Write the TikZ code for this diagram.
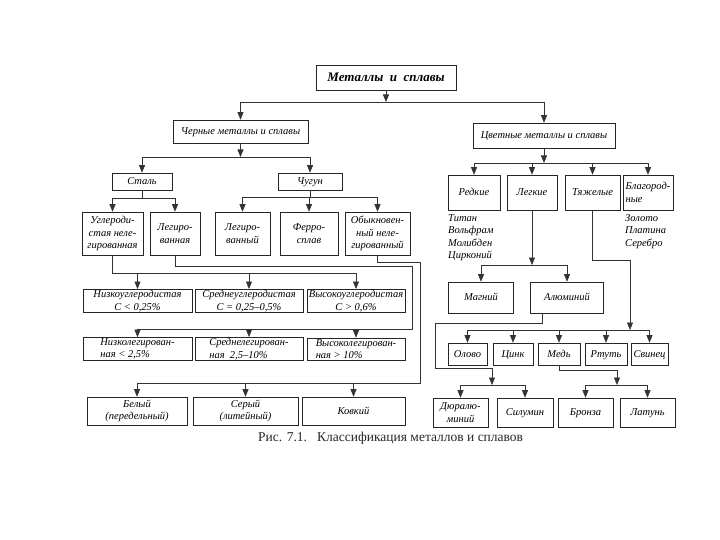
\documentclass[tikz,border=0pt]{standalone}
\usepackage{fontspec}
\setmainfont{Liberation Serif}
\usetikzlibrary{arrows.meta}

\tikzset{
  box/.style={draw=black!85, line width=0.6pt, inner sep=1pt, align=center,
    font=\itshape\fontsize{10.5}{12.5}\selectfont},
  word/.style={box, align=none, text height=6.5pt, text depth=0.5pt},
  list/.style={anchor=north west, inner sep=0pt, align=left,
    font=\itshape\fontsize{10.5}{12.5}\selectfont},
  link/.style={draw=black!80, line width=0.6pt},
  arr/.style={link, -{Triangle[width=6pt,length=7.5pt]}},
}

\begin{document}
\begin{tikzpicture}[x=1pt,y=-1pt]
  \useasboundingbox (0,0) rectangle (720,540);

  % top
  \node[word, text height=8.5pt, text depth=0.5pt, minimum width=140pt, minimum height=25pt, font=\bfseries\itshape\fontsize{13}{15}\selectfont] (metals) at (386,77.5) {Металлы\ \ и\ \ сплавы};
  \node[word, minimum width=135pt, minimum height=23pt] (ferrous) at (240.5,131.5) {Черные металлы и сплавы};
  \node[word, minimum width=142pt, minimum height=25pt] (nonferrous) at (544,135.5) {Цветные металлы и сплавы};

  % ferrous side
  \node[word, minimum width=60pt, minimum height=17pt] (steel) at (142,181.5) {Сталь};
  \node[word, minimum width=64pt, minimum height=17pt] (iron) at (310,181.5) {Чугун};

  \node[box, minimum width=61pt, minimum height=43pt] (carbon) at (112.5,233.5) {Углероди-\\стая неле-\\гированная};
  \node[box, minimum width=50pt, minimum height=43pt] (alloyst) at (175,233.5) {Легиро-\\ванная};
  \node[box, minimum width=55pt, minimum height=43pt] (alloyci) at (242.5,233.5) {Легиро-\\ванный};
  \node[box, minimum width=58pt, minimum height=43pt] (ferro) at (309,233.5) {Ферро-\\сплав};
  \node[box, minimum width=65pt, minimum height=43pt] (plain) at (377.5,233.5) {Обыкновен-\\ный неле-\\гированный};

  \node[box, minimum width=109pt, minimum height=22pt] (lowC) at (137.5,301) {Низкоуглеродистая\\C < 0,25\%};
  \node[box, minimum width=108pt, minimum height=22pt] (midC) at (249,301) {Среднеуглеродистая\\C = 0,25–0,5\%};
  \node[box, minimum width=98pt, minimum height=22pt] (highC) at (356,301) {Высокоуглеродистая\\C > 0,6\%};

  \node[box, align=left, minimum width=109pt, minimum height=22pt] (lowA) at (137.5,349) {Низколегирован-\\ная < 2,5\%};
  \node[box, align=left, minimum width=108pt, minimum height=22pt] (midA) at (249,349) {Среднелегирован-\\ная\ \ 2,5–10\%};
  \node[box, align=left, minimum width=98pt, minimum height=22pt] (highA) at (356,349) {Высоколегирован-\\ная > 10\%};

  \node[box, minimum width=100pt, minimum height=28pt] (white) at (137,411) {Белый\\(передельный)};
  \node[box, minimum width=105pt, minimum height=28pt] (grey) at (245.5,411) {Серый\\(литейный)};
  \node[word, minimum width=103pt, minimum height=28pt] (malleable) at (353.5,411) {Ковкий};

  % nonferrous side
  \node[word, minimum width=52pt, minimum height=35pt] (rare) at (474,192.5) {Редкие};
  \node[word, minimum width=50pt, minimum height=35pt] (light) at (532,192.5) {Легкие};
  \node[word, minimum width=55pt, minimum height=35pt] (heavy) at (592.5,192.5) {Тяжелые};
  \node[box, align=left, minimum width=50pt, minimum height=35pt] (noble) at (648,192.5) {Благород-\\ные};

  \node[list] (rarelist) at (448,214) {Титан\\Вольфрам\\Молибден\\Цирконий};
  \node[list] (noblelist) at (625,214) {Золото\\Платина\\Серебро};

  \node[word, minimum width=65pt, minimum height=31pt] (magnesium) at (481,297.5) {Магний};
  \node[word, minimum width=73pt, minimum height=31pt] (aluminium) at (567,297.5) {Алюминий};

  \node[word, minimum width=39pt, minimum height=22pt] (tin) at (467.5,354) {Олово};
  \node[word, minimum width=40pt, minimum height=22pt] (zinc) at (513,354) {Цинк};
  \node[word, minimum width=42pt, minimum height=22pt] (copper) at (559,354) {Медь};
  \node[word, minimum width=42pt, minimum height=22pt] (mercury) at (606,354) {Ртуть};
  \node[word, minimum width=37pt, minimum height=22pt] (lead) at (649.5,354) {Свинец};

  \node[box, minimum width=55pt, minimum height=29pt] (dural) at (460.5,412.5) {Дюралю-\\миний};
  \node[word, minimum width=56pt, minimum height=29pt] (silumin) at (525,412.5) {Силумин};
  \node[word, minimum width=55pt, minimum height=29pt] (bronze) at (585.5,412.5) {Бронза};
  \node[word, minimum width=55pt, minimum height=29pt] (brass) at (647.5,412.5) {Латунь};

  \node[anchor=base west, inner sep=0pt, font=\fontsize{13.5}{15}\selectfont, text=black!85] (caption) at (258,441) {Рис. 7.1.\ \ \ Классификация металлов и сплавов};

  % connectors, top
  \coordinate (b0) at (386,102);
  \draw[arr] (metals.south) -- (b0);
  \draw[link] (ferrous.north |- b0) -- (nonferrous.north |- b0);
  \draw[arr] (ferrous.north |- b0) -- (ferrous.north);
  \draw[arr] (nonferrous.north |- b0) -- (nonferrous.north);

  % ferrous
  \coordinate (b1) at (0,157);
  \draw[arr] (ferrous.south) -- (ferrous.south |- b1);
  \draw[link] (steel.north |- b1) -- (iron.north |- b1);
  \foreach \n in {steel,iron}
    \draw[arr] (\n.north |- b1) -- (\n.north);

  \coordinate (b2) at (0,198);
  \draw[link] (steel.south) -- (steel.south |- b2);
  \draw[link] (carbon.north |- b2) -- (alloyst.north |- b2);
  \foreach \n in {carbon,alloyst}
    \draw[arr] (\n.north |- b2) -- (\n.north);

  \coordinate (b3) at (0,197);
  \draw[link] (iron.south) -- (iron.south |- b3);
  \draw[link] (alloyci.north |- b3) -- (plain.north |- b3);
  \foreach \n in {alloyci,ferro,plain}
    \draw[arr] (\n.north |- b3) -- (\n.north);

  \coordinate (b4) at (0,273);
  \draw[link] (carbon.south) -- (carbon.south |- b4) -- (highC.north |- b4);
  \foreach \n in {lowC,midC,highC}
    \draw[arr] (\n.north |- b4) -- (\n.north);

  \coordinate (c1) at (412,266);
  \coordinate (c2) at (412,329);
  \draw[link] (alloyst.south) |- (c1) -- (c2) -- (lowA.north |- c2);
  \foreach \n in {lowA,midA,highA}
    \draw[arr] (\n.north |- c2) -- (\n.north);

  \coordinate (d1) at (420,262);
  \coordinate (d2) at (420,383);
  \draw[link] (plain.south) |- (d1) -- (d2) -- (white.north |- d2);
  \foreach \n in {white,grey,malleable}
    \draw[arr] (\n.north |- d2) -- (\n.north);

  % nonferrous
  \coordinate (b5) at (0,163);
  \draw[arr] (nonferrous.south) -- (nonferrous.south |- b5);
  \draw[link] (rare.north |- b5) -- (noble.north |- b5);
  \foreach \n in {rare,light,heavy,noble}
    \draw[arr] (\n.north |- b5) -- (\n.north);

  \coordinate (b6) at (0,265);
  \draw[arr] (light.south) -- (light.south |- b6);
  \draw[link] (magnesium.north |- b6) -- (aluminium.north |- b6);
  \foreach \n in {magnesium,aluminium}
    \draw[arr] (\n.north |- b6) -- (\n.north);

  \coordinate (e1) at (630,260);
  \coordinate (e2) at (630,330);
  \draw[link] (heavy.south) |- (e1);
  \draw[arr] (e1) -- (e2);
  \draw[link] (tin.north |- e2) -- (lead.north |- e2);
  \foreach \n in {tin,zinc,copper,mercury,lead}
    \draw[arr] (\n.north |- e2) -- (\n.north);

  \coordinate (f0) at (542,0);
  \coordinate (f1) at (435,323);
  \coordinate (f2) at (435,368);
  \coordinate (f3) at (492,368);
  \coordinate (f4) at (492,385);
  \draw[link] (aluminium.south -| f0) |- (f1) -- (f2) -- (f3);
  \draw[arr] (f3) -- (f4);
  \draw[link] (dural.north |- f4) -- (silumin.north |- f4);
  \foreach \n in {dural,silumin}
    \draw[arr] (\n.north |- f4) -- (\n.north);

  \coordinate (g1) at (617,370);
  \coordinate (g2) at (617,385);
  \draw[link] (copper.south) |- (g1);
  \draw[arr] (g1) -- (g2);
  \draw[link] (bronze.north |- g2) -- (brass.north |- g2);
  \foreach \n in {bronze,brass}
    \draw[arr] (\n.north |- g2) -- (\n.north);
\end{tikzpicture}
\end{document}
